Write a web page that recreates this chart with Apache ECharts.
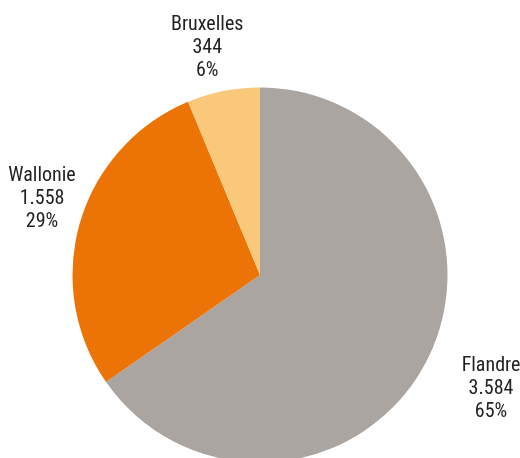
<!DOCTYPE html>
<html>
<head>
<meta charset="utf-8">
<script src="https://cdn.jsdelivr.net/npm/echarts@6/dist/echarts.min.js"></script>
<style>html,body{margin:0;padding:0;background:#fff}#c{width:520px;height:458px}</style>
</head>
<body>
<div id="c"></div>
<script>
const categories = ['Flandre', 'Wallonie', 'Bruxelles'];
const values = [3584, 1558, 344];
const percents = [65, 29, 6];
const colors = ['#aba5a2', '#ec7306', '#fac87a'];

const CX = 260, CY = 275, R = 187.5;
// label placement: polar tweak (extra rotation in deg, distance from centre)
const labelPolar = [[-1.24, 257.8], [2.8, 230.7], [-1.77, 233.5]];

const total = values.reduce((a, b) => a + b, 0);
const midAngles = [];
let acc = 0;
values.forEach(v => { midAngles.push((acc + v / 2) / total * 360); acc += v; });

function fmt(n) { return String(n).replace(/\B(?=(\d{3})+(?!\d))/g, '.'); }

const chart = echarts.init(document.getElementById('c'), null, { renderer: 'canvas' });
chart.setOption({
  animation: false,
  series: [{
    type: 'pie',
    center: [CX, CY],
    radius: [0, R],
    startAngle: 90,
    clockwise: true,
    silent: true,
    data: categories.map((c, i) => ({ name: c, value: values[i], itemStyle: { color: colors[i] } })),
    itemStyle: { borderWidth: 0 },
    label: {
      show: true,
      position: 'inside',
      overflow: 'none',
      formatter: p => p.name + '\n' + fmt(p.value) + '\n' + percents[p.dataIndex] + '%',
      fontStyle: 'condensed',
      fontFamily: 'Roboto, sans-serif',
      fontSize: 20,
      lineHeight: 23,
      color: '#222',
      align: 'center'
    },
    labelLine: { show: false },
    labelLayout: function (p) {
      const i = p.dataIndex;
      const a = (midAngles[i] + labelPolar[i][0]) * Math.PI / 180;
      const d = labelPolar[i][1];
      return {
        x: CX + d * Math.sin(a),
        y: CY - d * Math.cos(a),
        align: 'center',
        verticalAlign: 'middle'
      };
    }
  }]
});
</script>
</body>
</html>
